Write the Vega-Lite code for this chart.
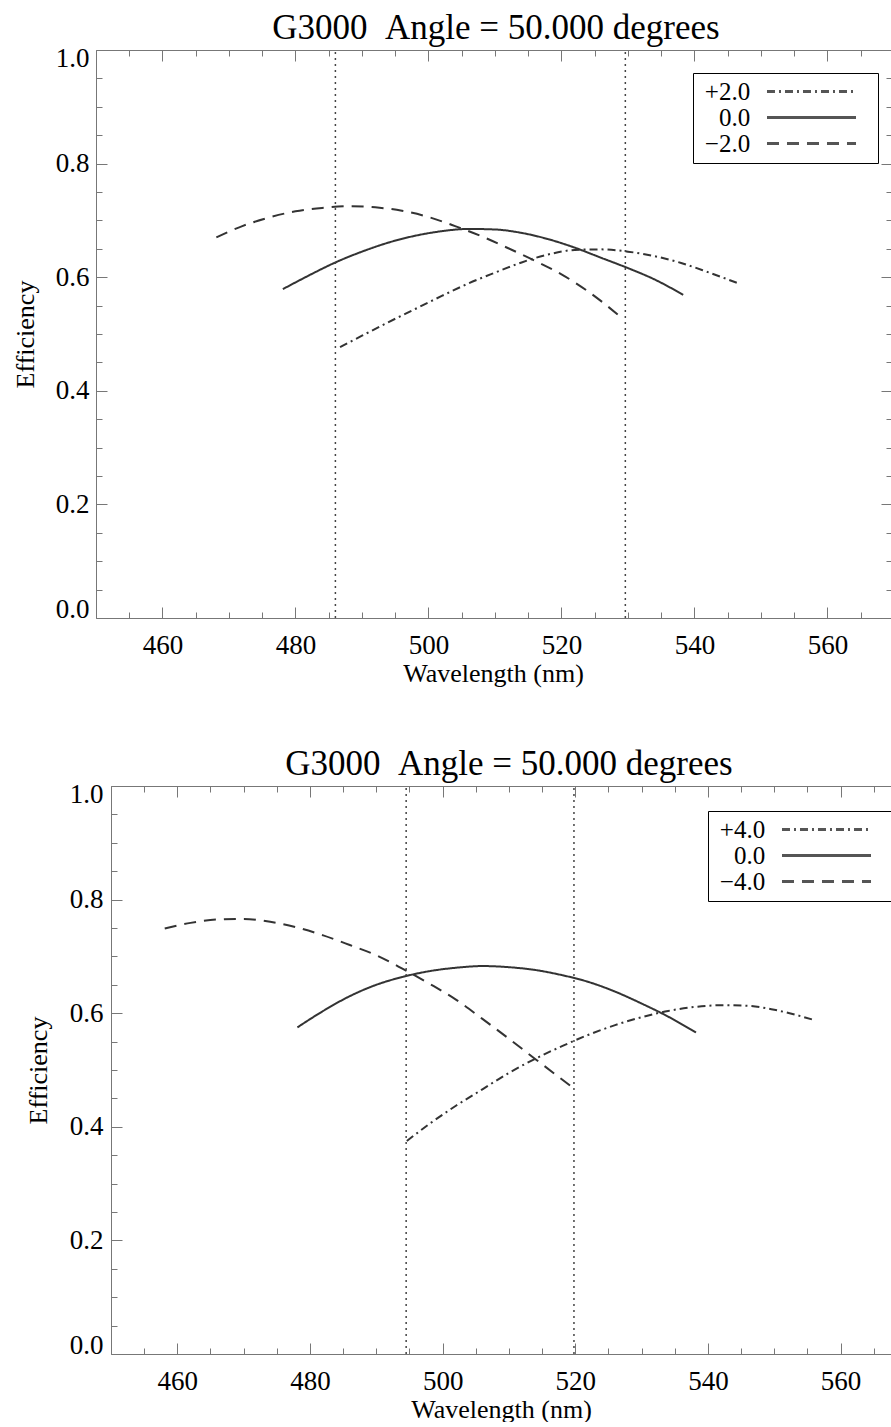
{
  "$schema": "https://vega.github.io/schema/vega-lite/v6.json",
  "autosize": {"type": "pad"},
  "padding": {"left": 0, "top": 11, "right": 0, "bottom": 0},
  "background": "white",
  "spacing": 61,
  "config": {
    "view": {"stroke": null},
    "font": "Liberation Serif",
    "axis": {
      "labelFont": "Liberation Serif",
      "labelFontSize": 27,
      "labelColor": "#000",
      "titleFont": "Liberation Serif",
      "titleFontSize": 26,
      "titleFontWeight": "normal",
      "titleColor": "#000",
      "tickColor": "#777",
      "domainColor": "#777",
      "grid": false,
      "labelOverlap": false,
      "labelBound": false
    },
    "legend": {
      "labelFont": "Liberation Serif",
      "labelFontSize": 25,
      "labelColor": "#000",
      "titleFont": "Liberation Serif"
    }
  },
  "resolve": {
    "scale": {"x": "independent", "y": "independent", "strokeDash": "independent"},
    "legend": {"strokeDash": "independent"}
  },
  "vconcat": [
    {
      "width": 780,
      "height": 568,
      "title": {
        "text": "G3000\u00a0\u00a0Angle = 50.000 degrees",
        "font": "Liberation Serif",
        "fontSize": 35,
        "fontWeight": "normal",
        "color": "#000",
        "anchor": "middle",
        "baseline": "alphabetic",
        "offset": -30,
        "dx": -5
      },
      "layer": [
        {
          "data": {"values": [
            {"wavelength": 486.7, "efficiency": 0.477, "offset": "+2.0"},
            {"wavelength": 490, "efficiency": 0.497, "offset": "+2.0"},
            {"wavelength": 494, "efficiency": 0.521, "offset": "+2.0"},
            {"wavelength": 498, "efficiency": 0.544, "offset": "+2.0"},
            {"wavelength": 502, "efficiency": 0.567, "offset": "+2.0"},
            {"wavelength": 506, "efficiency": 0.589, "offset": "+2.0"},
            {"wavelength": 510, "efficiency": 0.608, "offset": "+2.0"},
            {"wavelength": 514, "efficiency": 0.626, "offset": "+2.0"},
            {"wavelength": 518, "efficiency": 0.640, "offset": "+2.0"},
            {"wavelength": 522, "efficiency": 0.648, "offset": "+2.0"},
            {"wavelength": 526, "efficiency": 0.649, "offset": "+2.0"},
            {"wavelength": 530, "efficiency": 0.645, "offset": "+2.0"},
            {"wavelength": 534, "efficiency": 0.637, "offset": "+2.0"},
            {"wavelength": 538, "efficiency": 0.625, "offset": "+2.0"},
            {"wavelength": 542, "efficiency": 0.609, "offset": "+2.0"},
            {"wavelength": 546.4, "efficiency": 0.590, "offset": "+2.0"},
            {"wavelength": 478.1, "efficiency": 0.579, "offset": "0.0"},
            {"wavelength": 482, "efficiency": 0.603, "offset": "0.0"},
            {"wavelength": 486, "efficiency": 0.626, "offset": "0.0"},
            {"wavelength": 490, "efficiency": 0.645, "offset": "0.0"},
            {"wavelength": 494, "efficiency": 0.661, "offset": "0.0"},
            {"wavelength": 498, "efficiency": 0.673, "offset": "0.0"},
            {"wavelength": 502, "efficiency": 0.681, "offset": "0.0"},
            {"wavelength": 506, "efficiency": 0.685, "offset": "0.0"},
            {"wavelength": 510, "efficiency": 0.684, "offset": "0.0"},
            {"wavelength": 514, "efficiency": 0.678, "offset": "0.0"},
            {"wavelength": 518, "efficiency": 0.667, "offset": "0.0"},
            {"wavelength": 522, "efficiency": 0.652, "offset": "0.0"},
            {"wavelength": 526, "efficiency": 0.634, "offset": "0.0"},
            {"wavelength": 530, "efficiency": 0.616, "offset": "0.0"},
            {"wavelength": 534, "efficiency": 0.596, "offset": "0.0"},
            {"wavelength": 538.3, "efficiency": 0.569, "offset": "0.0"},
            {"wavelength": 468.1, "efficiency": 0.670, "offset": "−2.0"},
            {"wavelength": 472, "efficiency": 0.690, "offset": "−2.0"},
            {"wavelength": 476, "efficiency": 0.705, "offset": "−2.0"},
            {"wavelength": 480, "efficiency": 0.716, "offset": "−2.0"},
            {"wavelength": 484, "efficiency": 0.722, "offset": "−2.0"},
            {"wavelength": 488, "efficiency": 0.725, "offset": "−2.0"},
            {"wavelength": 492, "efficiency": 0.723, "offset": "−2.0"},
            {"wavelength": 496, "efficiency": 0.717, "offset": "−2.0"},
            {"wavelength": 500, "efficiency": 0.706, "offset": "−2.0"},
            {"wavelength": 504, "efficiency": 0.690, "offset": "−2.0"},
            {"wavelength": 508, "efficiency": 0.672, "offset": "−2.0"},
            {"wavelength": 512, "efficiency": 0.651, "offset": "−2.0"},
            {"wavelength": 516, "efficiency": 0.629, "offset": "−2.0"},
            {"wavelength": 520, "efficiency": 0.605, "offset": "−2.0"},
            {"wavelength": 524, "efficiency": 0.575, "offset": "−2.0"},
            {"wavelength": 529.0, "efficiency": 0.529, "offset": "−2.0"}
          ]},
          "mark": {"type": "line", "color": "#333", "strokeWidth": 2, "interpolate": "monotone"},
          "encoding": {
            "x": {
              "field": "wavelength", "type": "quantitative",
              "scale": {"domain": [450, 569.4], "range": [-15, 779], "nice": false, "zero": false},
              "axis": {
                "orient": "bottom",
                "values": [450,455,460,465,470,475,480,485,490,495,500,505,510,515,520,525,530,535,540,545,550,555,560,565],
                "format": "d",
                "labelExpr": "datum.value % 20 === 0 ? datum.label : ''",
                "tickSize": {"condition": {"test": "datum.value % 20 === 0", "value": -11}, "value": -6},
                "labelPadding": 25,
                "labelFlush": false,
                "title": "Wavelength (nm)",
                "titlePadding": -3
              }
            },
            "y": {
              "field": "efficiency", "type": "quantitative",
              "scale": {"domain": [0, 1], "nice": false, "zero": false},
              "axis": {
                "orient": "left",
                "offset": 15,
                "values": [0,0.05,0.1,0.15,0.2,0.25,0.3,0.35,0.4,0.45,0.5,0.55,0.6,0.65,0.7,0.75,0.8,0.85,0.9,0.95,1],
                "labelExpr": "round(datum.value*100) % 20 === 0 ? format(datum.value, '.1f') : ''",
                "tickSize": {"condition": {"test": "round(datum.value*100) % 20 === 0", "value": -11}, "value": -6},
                "labelPadding": 18,
                "labelFlush": true,
                "labelFlushOffset": 5,
                "title": "Efficiency",
                "titleX": -58,
                "minExtent": 96
              }
            },
            "strokeDash": {
              "field": "offset", "type": "nominal",
              "scale": {"domain": ["+2.0", "0.0", "−2.0"], "range": [[8, 4, 2, 4], [1, 0], [12, 8]]},
              "legend": {
                "orient": "none",
                "legendX": 582,
                "legendY": 23,
                "title": " ",
                "titleOrient": "right",
                "titlePadding": 10,
                "titleFontSize": 25,
                "padding": 6,
                "strokeColor": "#000",
                "symbolType": "M-5,0H5",
                "symbolSize": 317,
                "symbolStrokeWidth": 3,
                "symbolStrokeColor": "#555",
                "symbolOffset": 100,
                "labelOffset": -73.8,
                "labelAlign": "right",
                "rowPadding": 0
              }
            }
          }
        },
        {
          "data": {"values": [{"wavelength": 486.0}, {"wavelength": 529.6}]},
          "mark": {"type": "rule", "color": "#444", "strokeWidth": 1.5, "strokeDash": [2, 4]},
          "encoding": {
            "x": {
              "field": "wavelength", "type": "quantitative",
              "axis": {
                "orient": "top",
                "values": [450,455,460,465,470,475,480,485,490,495,500,505,510,515,520,525,530,535,540,545,550,555,560,565],
                "labels": false,
                "minExtent": 0,
                "tickSize": {"condition": {"test": "datum.value % 20 === 0", "value": -11}, "value": -6},
                "title": null
              }
            },
            "y": {
              "datum": 0, "type": "quantitative",
              "axis": {
                "orient": "right",
                "values": [0,0.05,0.1,0.15,0.2,0.25,0.3,0.35,0.4,0.45,0.5,0.55,0.6,0.65,0.7,0.75,0.8,0.85,0.9,0.95,1],
                "labels": false,
                "domain": false,
                "minExtent": 0,
                "tickSize": {"condition": {"test": "round(datum.value*100) % 20 === 0", "value": -10}, "value": -5},
                "title": null
              }
            },
            "y2": {"datum": 1}
          }
        }
      ],
      "resolve": {"axis": {"x": "independent", "y": "independent"}}
    },
    {
      "width": 780,
      "height": 568,
      "title": {
        "text": "G3000\u00a0\u00a0Angle = 50.000 degrees",
        "font": "Liberation Serif",
        "fontSize": 35,
        "fontWeight": "normal",
        "color": "#000",
        "anchor": "middle",
        "baseline": "alphabetic",
        "offset": -30,
        "dx": 8
      },
      "layer": [
        {
          "data": {"values": [
            {"wavelength": 494.6, "efficiency": 0.375, "offset": "+4.0"},
            {"wavelength": 498, "efficiency": 0.405, "offset": "+4.0"},
            {"wavelength": 502, "efficiency": 0.437, "offset": "+4.0"},
            {"wavelength": 506, "efficiency": 0.466, "offset": "+4.0"},
            {"wavelength": 510, "efficiency": 0.495, "offset": "+4.0"},
            {"wavelength": 514, "efficiency": 0.520, "offset": "+4.0"},
            {"wavelength": 518, "efficiency": 0.542, "offset": "+4.0"},
            {"wavelength": 522, "efficiency": 0.562, "offset": "+4.0"},
            {"wavelength": 526, "efficiency": 0.579, "offset": "+4.0"},
            {"wavelength": 530, "efficiency": 0.593, "offset": "+4.0"},
            {"wavelength": 534, "efficiency": 0.604, "offset": "+4.0"},
            {"wavelength": 538, "efficiency": 0.611, "offset": "+4.0"},
            {"wavelength": 542, "efficiency": 0.614, "offset": "+4.0"},
            {"wavelength": 546, "efficiency": 0.613, "offset": "+4.0"},
            {"wavelength": 550, "efficiency": 0.606, "offset": "+4.0"},
            {"wavelength": 556, "efficiency": 0.588, "offset": "+4.0"},
            {"wavelength": 478.1, "efficiency": 0.575, "offset": "0.0"},
            {"wavelength": 482, "efficiency": 0.604, "offset": "0.0"},
            {"wavelength": 486, "efficiency": 0.630, "offset": "0.0"},
            {"wavelength": 490, "efficiency": 0.650, "offset": "0.0"},
            {"wavelength": 494, "efficiency": 0.664, "offset": "0.0"},
            {"wavelength": 498, "efficiency": 0.674, "offset": "0.0"},
            {"wavelength": 502, "efficiency": 0.680, "offset": "0.0"},
            {"wavelength": 506, "efficiency": 0.683, "offset": "0.0"},
            {"wavelength": 510, "efficiency": 0.681, "offset": "0.0"},
            {"wavelength": 514, "efficiency": 0.676, "offset": "0.0"},
            {"wavelength": 518, "efficiency": 0.667, "offset": "0.0"},
            {"wavelength": 522, "efficiency": 0.655, "offset": "0.0"},
            {"wavelength": 526, "efficiency": 0.638, "offset": "0.0"},
            {"wavelength": 530, "efficiency": 0.617, "offset": "0.0"},
            {"wavelength": 534, "efficiency": 0.594, "offset": "0.0"},
            {"wavelength": 538.2, "efficiency": 0.566, "offset": "0.0"},
            {"wavelength": 458.1, "efficiency": 0.749, "offset": "−4.0"},
            {"wavelength": 462, "efficiency": 0.759, "offset": "−4.0"},
            {"wavelength": 466, "efficiency": 0.765, "offset": "−4.0"},
            {"wavelength": 470, "efficiency": 0.766, "offset": "−4.0"},
            {"wavelength": 474, "efficiency": 0.761, "offset": "−4.0"},
            {"wavelength": 478, "efficiency": 0.751, "offset": "−4.0"},
            {"wavelength": 482, "efficiency": 0.737, "offset": "−4.0"},
            {"wavelength": 486, "efficiency": 0.720, "offset": "−4.0"},
            {"wavelength": 490, "efficiency": 0.702, "offset": "−4.0"},
            {"wavelength": 494, "efficiency": 0.678, "offset": "−4.0"},
            {"wavelength": 498, "efficiency": 0.652, "offset": "−4.0"},
            {"wavelength": 502, "efficiency": 0.624, "offset": "−4.0"},
            {"wavelength": 506, "efficiency": 0.590, "offset": "−4.0"},
            {"wavelength": 510, "efficiency": 0.555, "offset": "−4.0"},
            {"wavelength": 514, "efficiency": 0.519, "offset": "−4.0"},
            {"wavelength": 519.5, "efficiency": 0.470, "offset": "−4.0"}
          ]},
          "mark": {"type": "line", "color": "#333", "strokeWidth": 2, "interpolate": "monotone"},
          "encoding": {
            "x": {
              "field": "wavelength", "type": "quantitative",
              "scale": {"domain": [450, 567.6], "nice": false, "zero": false},
              "axis": {
                "orient": "bottom",
                "values": [450,455,460,465,470,475,480,485,490,495,500,505,510,515,520,525,530,535,540,545,550,555,560,565],
                "format": "d",
                "labelExpr": "datum.value % 20 === 0 ? datum.label : ''",
                "tickSize": {"condition": {"test": "datum.value % 20 === 0", "value": -11}, "value": -6},
                "labelPadding": 25,
                "labelFlush": false,
                "title": "Wavelength (nm)",
                "titlePadding": -3
              }
            },
            "y": {
              "field": "efficiency", "type": "quantitative",
              "scale": {"domain": [0, 1], "nice": false, "zero": false},
              "axis": {
                "orient": "left",
                "values": [0,0.05,0.1,0.15,0.2,0.25,0.3,0.35,0.4,0.45,0.5,0.55,0.6,0.65,0.7,0.75,0.8,0.85,0.9,0.95,1],
                "labelExpr": "round(datum.value*100) % 20 === 0 ? format(datum.value, '.1f') : ''",
                "tickSize": {"condition": {"test": "round(datum.value*100) % 20 === 0", "value": -11}, "value": -6},
                "labelPadding": 19,
                "labelFlush": true,
                "labelFlushOffset": 5,
                "title": "Efficiency",
                "titleX": -60,
                "minExtent": 111
              }
            },
            "strokeDash": {
              "field": "offset", "type": "nominal",
              "scale": {"domain": ["+4.0", "0.0", "−4.0"], "range": [[8, 4, 2, 4], [1, 0], [12, 8]]},
              "legend": {
                "orient": "none",
                "legendX": 597,
                "legendY": 25,
                "title": " ",
                "titleOrient": "right",
                "titlePadding": 10,
                "titleFontSize": 25,
                "padding": 6,
                "strokeColor": "#000",
                "symbolType": "M-5,0H5",
                "symbolSize": 317,
                "symbolStrokeWidth": 3,
                "symbolStrokeColor": "#555",
                "symbolOffset": 100,
                "labelOffset": -73.8,
                "labelAlign": "right",
                "rowPadding": 0
              }
            }
          }
        },
        {
          "data": {"values": [{"wavelength": 494.5}, {"wavelength": 519.8}]},
          "mark": {"type": "rule", "color": "#444", "strokeWidth": 1.5, "strokeDash": [2, 4]},
          "encoding": {
            "x": {
              "field": "wavelength", "type": "quantitative",
              "axis": {
                "orient": "top",
                "values": [450,455,460,465,470,475,480,485,490,495,500,505,510,515,520,525,530,535,540,545,550,555,560,565],
                "labels": false,
                "minExtent": 0,
                "tickSize": {"condition": {"test": "datum.value % 20 === 0", "value": -11}, "value": -6},
                "title": null
              }
            },
            "y": {"datum": 0, "type": "quantitative", "axis": null},
            "y2": {"datum": 1}
          }
        }
      ],
      "resolve": {"axis": {"x": "independent", "y": "independent"}}
    }
  ]
}
